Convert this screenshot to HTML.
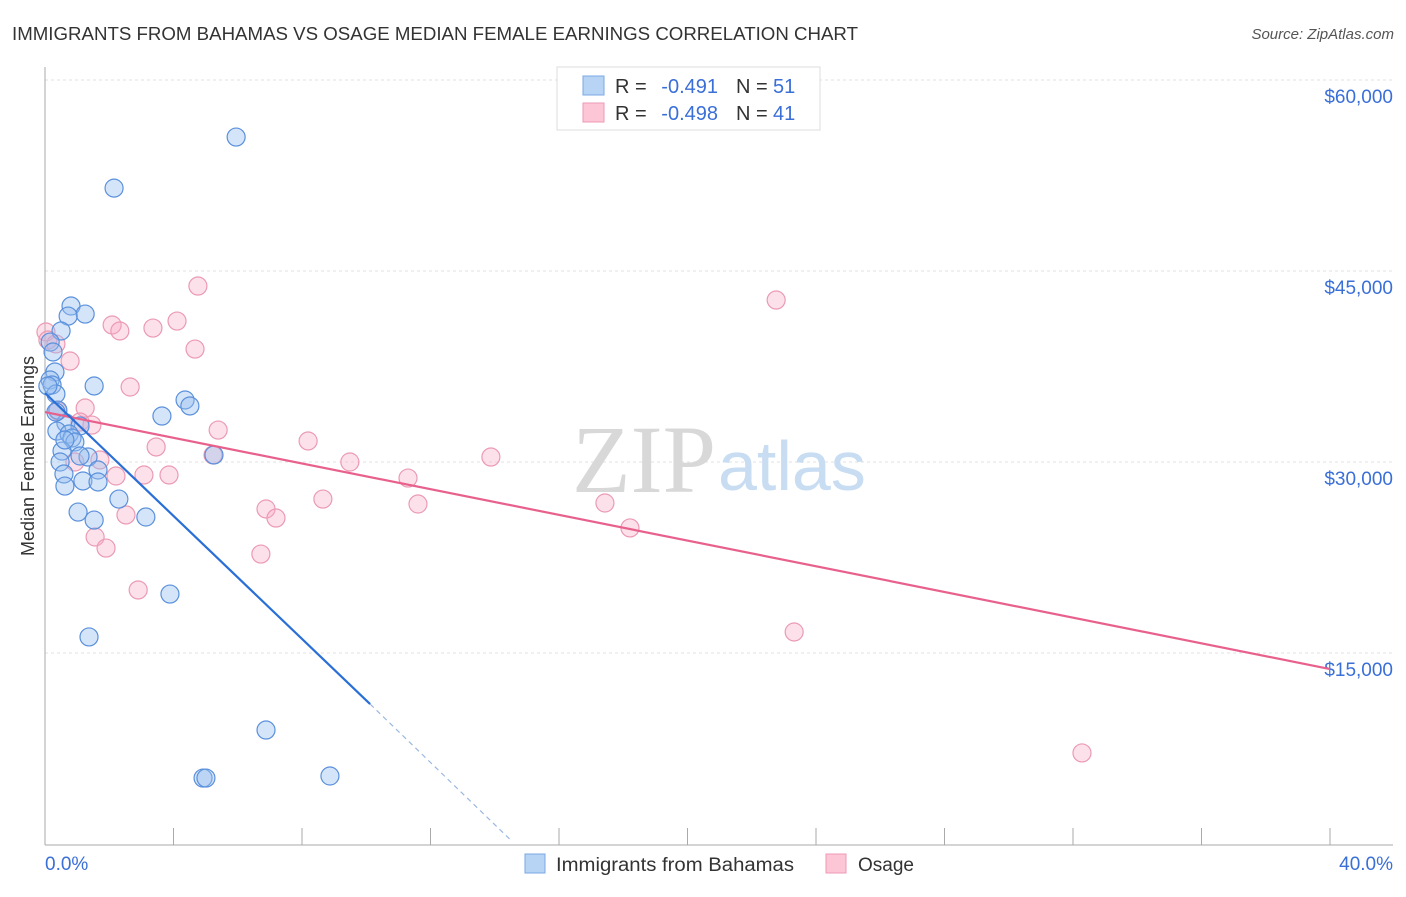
<!DOCTYPE html>
<html><head><meta charset="utf-8"><style>
body{margin:0;background:#fff;font-family:"Liberation Sans",sans-serif}
</style></head><body>
<svg width="1406" height="892" xmlns="http://www.w3.org/2000/svg" font-family="Liberation Sans, sans-serif">
<text x="12" y="40" font-size="18" fill="#333" textLength="846" lengthAdjust="spacingAndGlyphs">IMMIGRANTS FROM BAHAMAS VS OSAGE MEDIAN FEMALE EARNINGS CORRELATION CHART</text>
<text x="1394" y="39" font-size="15" fill="#555" text-anchor="end" font-style="italic">Source: ZipAtlas.com</text>
<g id="grid"></g>
<text x="716" y="492" font-size="96" text-anchor="end" fill="#d8d8d8" font-family="Liberation Serif, serif">ZIP</text>
<text x="718" y="490" font-size="70" fill="#c8dcf2">atlas</text>
<g id="marks"></g>
<text transform="translate(34,456) rotate(-90)" font-size="18" fill="#333" text-anchor="middle">Median Female Earnings</text>
<g>
<rect x="557" y="67" width="263" height="63" fill="#fff" stroke="#ddd"/>
<rect x="583" y="76" width="21" height="19" fill="#b8d4f5" stroke="#7aa8e6"/>
<rect x="583" y="103" width="21" height="19" fill="#fcc6d6" stroke="#ee9ab4"/>
<text x="615" y="93" font-size="20" fill="#333">R =</text>
<text x="718" y="93" font-size="20" fill="#3a6fd8" text-anchor="end">-0.491</text>
<text x="736" y="93" font-size="20" fill="#333">N =</text>
<text x="773" y="93" font-size="20" fill="#3a6fd8">51</text>
<text x="615" y="120" font-size="20" fill="#333">R =</text>
<text x="718" y="120" font-size="20" fill="#3a6fd8" text-anchor="end">-0.498</text>
<text x="736" y="120" font-size="20" fill="#333">N =</text>
<text x="773" y="120" font-size="20" fill="#3a6fd8">41</text>
</g>
<g>
<rect x="525" y="854" width="20" height="19" fill="#b8d4f5" stroke="#7aa8e6"/>
<text x="556" y="871" font-size="19" fill="#333" textLength="238" lengthAdjust="spacingAndGlyphs">Immigrants from Bahamas</text>
<rect x="826" y="854" width="20" height="19" fill="#fcc6d6" stroke="#ee9ab4"/>
<text x="858" y="871" font-size="19" fill="#333">Osage</text>
</g>
</svg>
<script>
const yTicks=[15000,30000,45000,60000];
const yTickLabels=["$15,000","$30,000","$45,000","$60,000"];
const xTickLabels=["0.0%","40.0%"];
const blueX=[5.95,2.15,0.81,1.25,0.72,0.50,0.16,0.25,0.31,0.16,0.22,1.53,0.34,0.40,4.36,4.51,3.64,0.65,1.09,0.37,0.75,0.84,0.93,0.53,1.34,5.26,0.47,1.65,0.59,1.18,0.62,1.65,1.03,1.53,2.30,3.14,3.89,1.37,6.88,4.92,5.01,8.87,1.09,0.09,0.34,0.62];
const blueY=[55520,51510,42250,41620,41460,40290,39420,38640,37070,36440,36050,35970,35340,34080,34870,34400,33610,33060,32830,32430,32200,31880,31570,30860,30390,30550,30000,29370,29060,28510,28110,28430,26070,25440,27090,25680,19630,16260,8950,5180,5180,5340,30470,35970,33920,31730];
const pinkX=[0.03,0.09,0.34,0.78,4.76,4.11,2.09,2.33,3.36,4.67,2.65,1.25,0.40,1.09,1.46,5.39,3.46,8.19,1.71,5.23,9.49,13.88,2.21,3.08,3.86,11.30,8.65,2.52,6.88,7.19,11.61,17.43,18.21,1.56,1.90,6.72,2.90,22.76,23.32,32.28,0.93];
const pinkY=[40210,39580,39270,37930,43820,41070,40760,40290,40520,38870,35890,34240,34000,33140,32900,32510,31180,31650,30160,30550,30000,30390,28900,28980,28980,28740,27090,25840,26310,25600,26700,26780,24820,24110,23240,22770,19950,42720,16650,7150,30000];
const blueTrend=[35420,10990,300];
const blueTrendX=[0,10.12,14.5];
const pinkTrend=[33920,13740];
const pinkTrendX=[0,40];
const NS="http://www.w3.org/2000/svg";
const X=v=>45+v/40*1285, Y=v=>844-v/60000*764;
function mk(t,a,p){const e=document.createElementNS(NS,t);for(const k in a)e.setAttribute(k,a[k]);p.appendChild(e);return e;}
const g=document.getElementById('grid'),m=document.getElementById('marks');
yTicks.forEach((t,i)=>{
 const l=mk('line',{x1:45,x2:1393,y1:Y(t),y2:Y(t),stroke:'#e2e2e2','stroke-dasharray':'3,3'},g);
 
 
 const tx=mk('text',{x:1393,y:Y(t)+23,'font-size':19,fill:'#3a6fd8','text-anchor':'end'},g);tx.textContent=yTickLabels[i];
 
 
});
mk('line',{x1:45,x2:45,y1:67,y2:845,stroke:'#aaa'},g);
mk('line',{x1:45,x2:1393,y1:845,y2:845,stroke:'#aaa'},g);
for(let i=0;i<=10;i++){const t=mk('line',{x1:X(i*4),x2:X(i*4),y1:828,y2:845,stroke:'#aaa'},g);
 
 }
const xl0=mk('text',{x:45,y:870,'font-size':19,fill:'#3a6fd8'},g);xl0.textContent=xTickLabels[0];


const xl1=mk('text',{x:1393,y:870,'font-size':19,fill:'#3a6fd8','text-anchor':'end'},g);xl1.textContent=xTickLabels[1];


pinkX.forEach((x,i)=>{const c=mk('circle',{cx:X(x),cy:Y(pinkY[i]),r:9,fill:'rgba(248,170,195,0.35)',stroke:'#eb9ab4','stroke-width':1.2},m);
 
 });
blueX.forEach((x,i)=>{const c=mk('circle',{cx:X(x),cy:Y(blueY[i]),r:9,fill:'rgba(150,190,240,0.4)',stroke:'#5a90dc','stroke-width':1.2},m);
 
 });
const pl=mk('line',{x1:X(pinkTrendX[0]),y1:Y(pinkTrend[0]),x2:X(pinkTrendX[1]),y2:Y(pinkTrend[1]),stroke:'#e8608c','stroke-width':2.2},m);


const bl=mk('line',{x1:X(blueTrendX[0]),y1:Y(blueTrend[0]),x2:X(blueTrendX[1]),y2:Y(blueTrend[1]),stroke:'#2a6fd6','stroke-width':2.2},m);


const bd=mk('line',{x1:X(blueTrendX[1]),y1:Y(blueTrend[1]),x2:X(blueTrendX[2]),y2:Y(blueTrend[2]),stroke:'#9bb8e0','stroke-width':1.2,'stroke-dasharray':'5,4'},m);


</script>
</body></html>
